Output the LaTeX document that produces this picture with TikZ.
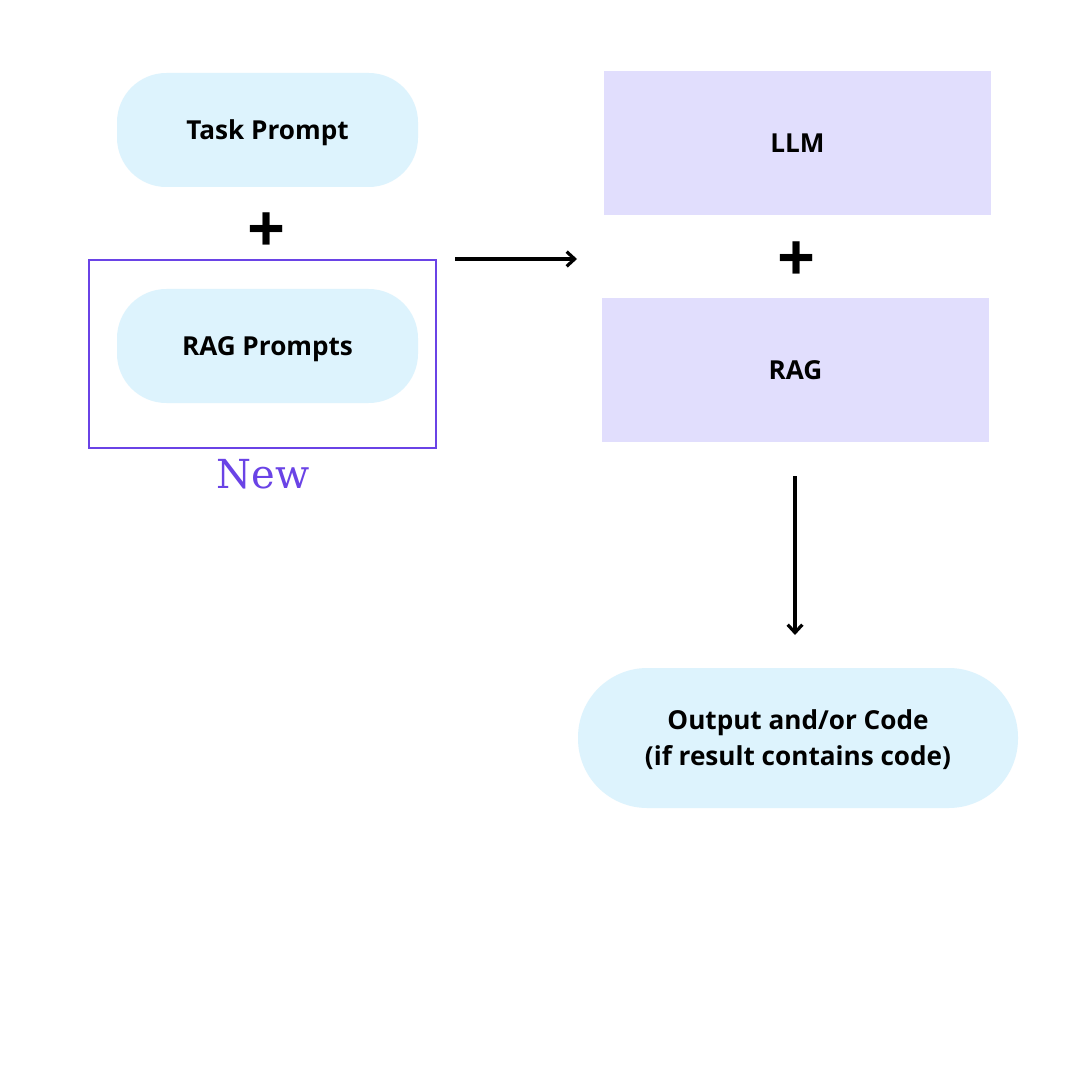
\documentclass[tikz,border=0pt]{standalone}
\usepackage{fontspec}
\setmainfont{Open Sans}
\newfontfamily\newserif{DejaVu Serif}
\usetikzlibrary{arrows.meta}
\definecolor{pillblue}{HTML}{DDF3FD}
\definecolor{lav}{HTML}{E1DEFD}
\definecolor{newpurple}{HTML}{6A43E6}
\begin{document}
\begin{tikzpicture}[x=0.75pt,y=-0.75pt,
  pill/.style={fill=pillblue,draw=none,rounded corners=37pt,inner sep=0pt,text depth=0pt,
    font=\fontsize{19.6pt}{27pt}\selectfont\bfseries,align=center},
  llmbox/.style={fill=lav,draw=none,inner sep=0pt,
    font=\fontsize{19.6pt}{27pt}\selectfont\bfseries},
  plus/.style={inner sep=0pt,font=\fontsize{50pt}{50pt}\selectfont\bfseries},
  conn/.style={line width=2.4pt,-{Straight Barb[length=6pt,width=11pt,line width=2.4pt]}}]
\useasboundingbox (0,0) rectangle (1080,1080);
\fill[white] (0,0) rectangle (1080,1080);
% left column
\node[pill,minimum width=301*0.75pt,minimum height=114*0.75pt] (task) at (267.5,130) {Task Prompt};
\node[plus] (plus1) at (267,233) {+};
\node[draw=newpurple,line width=1.6pt,minimum width=347*0.75pt,minimum height=188*0.75pt,inner sep=0pt] (newbox) at (262.5,354) {};
\node[pill,minimum width=301*0.75pt,minimum height=114*0.75pt] (rag) at (267.5,346) {RAG Prompts};
\node[text=newpurple,font=\newserif\fontsize{30pt}{30pt}\selectfont,inner sep=0pt] (newlbl) at (263,474) {New};
% right column
\node[llmbox,minimum width=387*0.75pt,minimum height=144*0.75pt] (llm) at (797.5,143) {LLM};
\node[plus] (plus2) at (797,262) {+};
\node[llmbox,minimum width=387*0.75pt,minimum height=144*0.75pt] (ragm) at (795.5,370) {RAG};
\node[pill,rounded corners=52pt,minimum width=440*0.75pt,minimum height=140*0.75pt] (out) at (798,738) {Output and/or Code\\(if result contains code)};
% connectors
\coordinate (a1) at (455,259);
\coordinate (a2) at (577,259);
\draw[conn] (a1) -- (a2);
\coordinate (b1) at (795,476);
\coordinate (b2) at (795,635);
\draw[conn] (b1) -- (b2);
\end{tikzpicture}
\end{document}
